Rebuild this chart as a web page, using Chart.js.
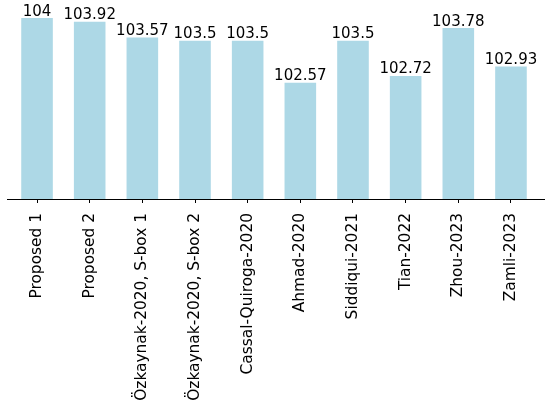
<!DOCTYPE html>
<html>
<head>
<meta charset="utf-8">
<script src="https://cdn.jsdelivr.net/npm/chart.js@4.4.0/dist/chart.umd.min.js"></script>
<style>
  html, body { margin: 0; padding: 0; background: #fff; }
  #wrap { width: 550px; height: 405px; }
</style>
</head>
<body>
<div id="wrap"><canvas id="chart" width="550" height="405"></canvas></div>
<script>
const categories = ['Proposed 1', 'Proposed 2', 'Özkaynak-2020, S-box 1', 'Özkaynak-2020, S-box 2',
    'Cassal-Quiroga-2020', 'Ahmad-2020', 'Siddiqui-2021', 'Tian-2022', 'Zhou-2023', 'Zamli-2023'];
const values = [104, 103.92, 103.57, 103.5, 103.5, 102.57, 103.5, 102.72, 103.78, 102.93];
const yMin = 100;
const yMax = 104.4;

const FONT = 'DejaVu Sans';

// value labels above bars
const barLabels = {
    id: 'barLabels',
    afterDatasetsDraw(chart) {
        const ctx = chart.ctx;
        const meta = chart.getDatasetMeta(0);
        ctx.save();
        ctx.font = '15px "' + FONT + '"';
        ctx.fillStyle = '#000';
        ctx.textAlign = 'center';
        ctx.textBaseline = 'alphabetic';
        meta.data.forEach((bar, i) => {
            ctx.fillText(String(values[i]), bar.x, bar.y - 2.5);
        });
        ctx.restore();
    }
};

// bottom spine, a bit wider than the bars' area
const bottomSpine = {
    id: 'bottomSpine',
    afterDraw(chart) {
        const ctx = chart.ctx;
        const y = chart.chartArea.bottom + 0.5;
        ctx.save();
        ctx.strokeStyle = '#000';
        ctx.lineWidth = 1;
        ctx.beginPath();
        ctx.moveTo(7, y);
        ctx.lineTo(545, y);
        ctx.stroke();
        ctx.restore();
    }
};

const ctx = document.getElementById('chart').getContext('2d');
new Chart(ctx, {
    type: 'bar',
    data: {
        labels: categories,
        datasets: [{
            data: values,
            backgroundColor: '#add8e6',
            borderWidth: 0,
            barPercentage: 0.6,
            categoryPercentage: 1.0
        }]
    },
    options: {
        responsive: false,
        animation: false,
        devicePixelRatio: 1,
        layout: { padding: { left: 10.7, right: 12.7, top: 0, bottom: 0 } },
        plugins: { legend: { display: false }, tooltip: { enabled: false } },
        scales: {
            x: {
                grid: { display: true, drawOnChartArea: false, offset: false, tickLength: 4, color: '#000', tickWidth: 1 },
                border: { display: false },
                ticks: {
                    color: '#000',
                    font: { family: FONT, size: 15.4 },
                    minRotation: 90,
                    maxRotation: 90,
                    autoSkip: false,
                    padding: 10
                },
                afterFit(scale) { scale.height = 206; }
            },
            y: {
                display: false,
                min: yMin,
                max: yMax
            }
        }
    },
    plugins: [barLabels, bottomSpine]
});
</script>
</body>
</html>
